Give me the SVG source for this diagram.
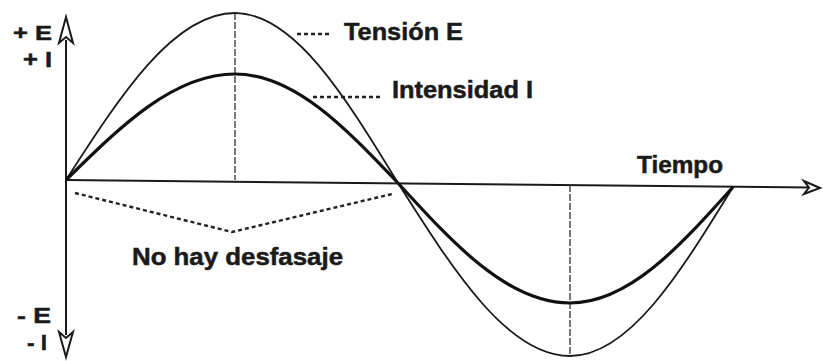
<svg xmlns="http://www.w3.org/2000/svg" width="823" height="361" viewBox="0 0 823 361">
<style>
.lbl{font-family:"Liberation Sans",Arial,sans-serif;font-weight:bold;fill:#1a1a1a;stroke:#1a1a1a;stroke-width:0.5}
.axis{stroke:#1a1a1a;stroke-width:2;fill:none}
.ah{stroke:#1a1a1a;stroke-width:2;fill:#fff;stroke-linejoin:miter}
.guide{stroke:#333;stroke-width:1.3;fill:none;stroke-dasharray:7 2}
.lead{stroke:#222;stroke-width:2.4;fill:none;stroke-dasharray:4 3}
</style>
<rect width="823" height="361" fill="#fff"/>
<g id="connectors">
  <line class="axis" x1="66" y1="40" x2="66" y2="335"/>
  <line class="axis" x1="66" y1="180" x2="812" y2="187.5"/>
  <polygon class="ah" points="66,17 73,43 66,37 59,43"/>
  <polygon class="ah" points="66,357 73,332 66,338 59,332"/>
  <polygon class="ah" points="820,188 804,181 809,187.6 804,194"/>
  <line class="guide" x1="235" y1="13" x2="235" y2="180"/>
  <line class="guide" x1="570" y1="185" x2="570" y2="356"/>
  <polyline class="lead" points="75,193 232,232 392,194"/>
  <line class="lead" x1="297" y1="34" x2="331" y2="34"/>
  <line class="lead" x1="313" y1="97" x2="381" y2="97"/>
</g>
<g id="tension">
  <path d="M66,180 C121.1,94.4 173.8,13 235,13 C294,13 344.8,95.9 398,183 C454.1,271.6 507.8,356 570,356 C629,356 679.8,273.6 733,187" fill="none" stroke="#1a1a1a" stroke-width="1.8"/>
</g>
<g id="intensidad">
  <path d="M66,180 C121.1,125.7 173.8,74 235,74 C294,74 344.8,127.2 398,183 C454.1,244.5 507.8,303 570,303 C629,303 679.8,246.4 733,187" fill="none" stroke="#111" stroke-width="3.2"/>
</g>
<g id="labels">
  <text class="lbl" x="13" y="40" font-size="21" textLength="39" lengthAdjust="spacingAndGlyphs">+ E</text>
  <text class="lbl" x="23" y="67" font-size="22" textLength="29" lengthAdjust="spacingAndGlyphs">+ I</text>
  <text class="lbl" x="17" y="323" font-size="22" textLength="34" lengthAdjust="spacingAndGlyphs">- E</text>
  <text class="lbl" x="27" y="350" font-size="22" textLength="20" lengthAdjust="spacingAndGlyphs">- I</text>
  <text class="lbl" x="344" y="40" font-size="24" textLength="119" lengthAdjust="spacingAndGlyphs">Tensión E</text>
  <text class="lbl" x="392" y="98" font-size="24" textLength="141" lengthAdjust="spacingAndGlyphs">Intensidad I</text>
  <text class="lbl" x="637" y="173" font-size="24" textLength="86" lengthAdjust="spacingAndGlyphs">Tiempo</text>
  <text class="lbl" x="132" y="265" font-size="24" textLength="211" lengthAdjust="spacingAndGlyphs">No hay desfasaje</text>
</g>
</svg>
